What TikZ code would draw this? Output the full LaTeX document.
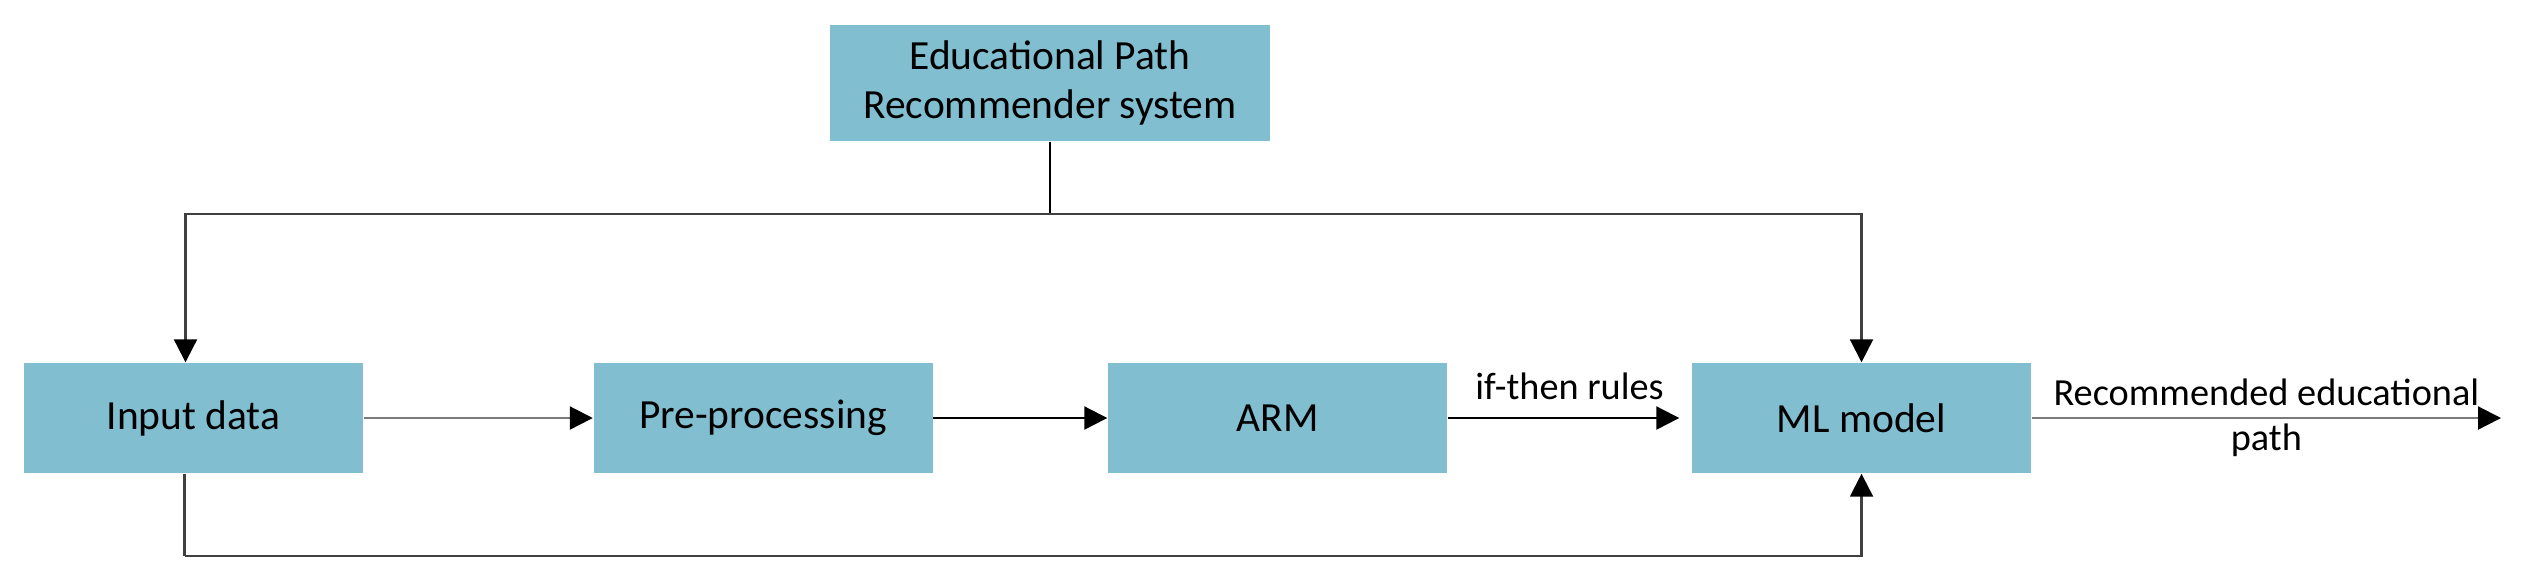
\documentclass[tikz,border=0pt]{standalone}
\usepackage{fontspec}
\setmainfont{Carlito}
\usetikzlibrary{arrows.meta, positioning, calc}
\definecolor{epBox}{HTML}{81BED0}
\definecolor{epInk}{HTML}{000000}
\definecolor{epDark}{HTML}{404040}
\definecolor{epGrey}{HTML}{7A7A7A}
\tikzset{
  stage/.style={
    fill=epBox, draw=none, inner sep=2pt, align=center,
    font=\fontsize{11.8}{14}\selectfont, text=epInk,
    minimum width=3.39cm, minimum height=1.10cm
  },
  flow/.style={-{Triangle[length=2.3mm, width=2.3mm, color=epInk]}, line width=0.6pt, draw=epInk},
  flowg/.style={flow, draw=epGrey},
  wire/.style={line width=0.6pt, draw=epDark},
  lbl/.style={font=\fontsize{10.9}{12.8}\selectfont, text=epInk, align=center, inner sep=2pt},
}
\begin{document}
\begin{tikzpicture}
  \useasboundingbox (0,0) rectangle (25.21,-5.79);

  % system box on top
  \node[stage, minimum width=4.40cm, minimum height=1.16cm] (sys) at (10.50,-0.83)
    {Educational Path\\Recommender system};

  % pipeline row
  \node[stage] (inp) at (1.935,-4.18) {Input data};
  \node[stage] (pre) at (7.63,-4.18)  {Pre-processing};
  \node[stage] (arm) at (12.775,-4.18) {ARM};
  \node[stage] (ml)  at (18.615,-4.18) {ML model};
  \coordinate (out) at (25.01,-4.18);

  % split from the system box
  \draw[wire, draw=epInk] (sys.south) -- ++(0,-0.72) coordinate (split);
  \draw[flow, draw=epDark] (split) -| ([xshift=-0.08cm]inp.north);
  \draw[flow, draw=epDark] (split) -| (ml.north);

  % main flow
  \draw[flowg] (inp) -- (pre);
  \draw[flow]  (pre) -- (arm);
  \draw[flow, shorten >=0.12cm] (arm) -- (ml) node[lbl, midway, above=3pt] {if-then rules};
  \draw[flowg] (ml) -- (out) node[lbl, midway] {Recommended educational\\path};

  % input data straight to the model
  \draw[wire] ([xshift=-0.09cm]inp.south) -- ++(0,-0.82) coordinate (low);
  \draw[flow, draw=epDark] (low) -| (ml.south);
\end{tikzpicture}
\end{document}
